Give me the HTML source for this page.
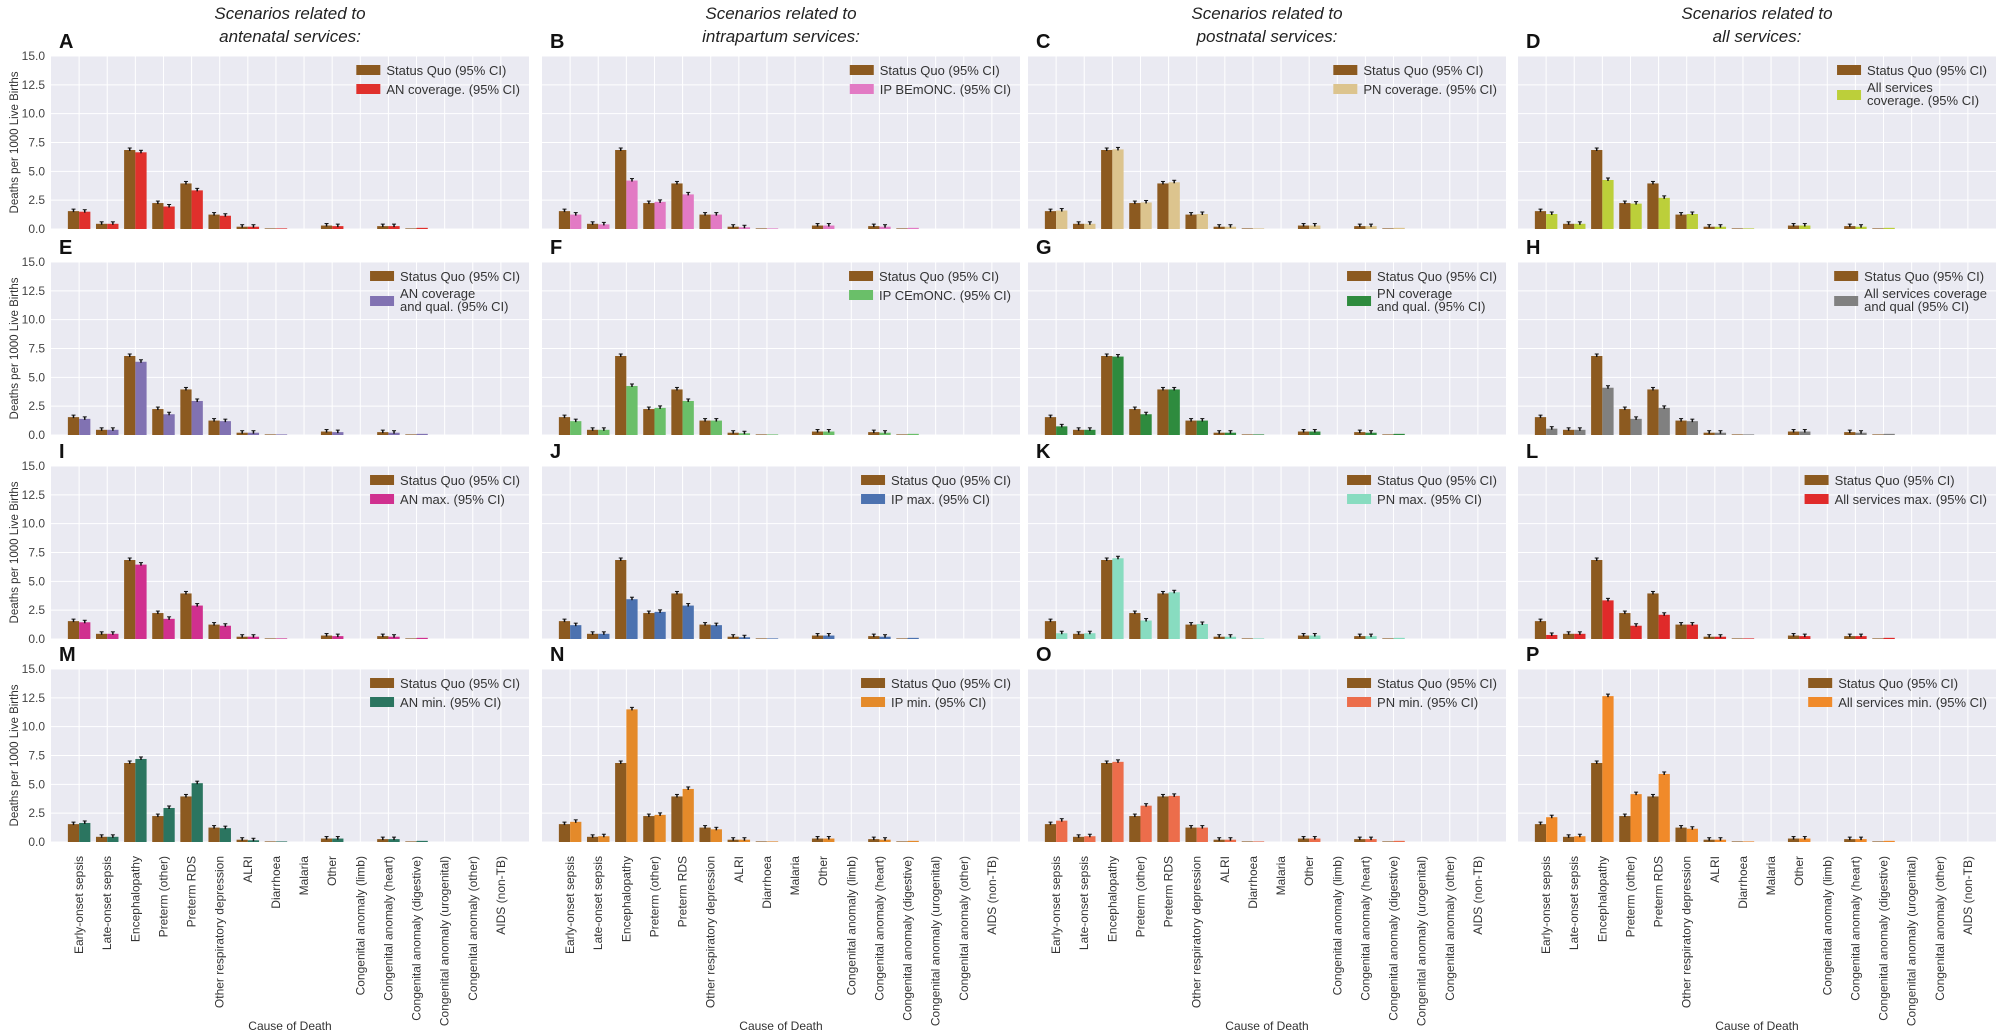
<!DOCTYPE html>
<html><head><meta charset="utf-8"><style>
html,body{margin:0;padding:0;background:#fff;}
svg{display:block;font-family:"Liberation Sans",sans-serif;}
</style></head><body>
<svg id="s" width="2000" height="1036" xmlns="http://www.w3.org/2000/svg"></svg>
<script>
const S=document.getElementById('s');const NS='http://www.w3.org/2000/svg';
function el(t,a,txt){const e=document.createElementNS(NS,t);for(const k in a)e.setAttribute(k,a[k]);if(txt!==undefined)e.textContent=txt;S.appendChild(e);return e;}
const L=[51,542,1028,1518],W=478,T=[56,262,466,669],H=173;
const SQ=[1.55,0.45,6.85,2.25,3.95,1.25,0.2,0.05,0,0.3,0,0.25,0.05,0,0,0];
const P=[
['A','#e0302c',['AN coverage. (95% CI)'],[1.5,0.45,6.65,1.95,3.35,1.15,0.2,0.05,0,0.25,0,0.25,0.1,0,0,0]],
['B','#e27ac4',['IP BEmONC. (95% CI)'],[1.25,0.4,4.2,2.35,3.0,1.25,0.15,0.05,0,0.3,0,0.2,0.1,0,0,0]],
['C','#dcc48e',['PN coverage. (95% CI)'],[1.6,0.45,6.9,2.3,4.05,1.3,0.2,0.05,0,0.3,0,0.25,0.1,0,0,0]],
['D','#bccf3a',['All services','coverage. (95% CI)'],[1.3,0.45,4.25,2.2,2.7,1.3,0.2,0.05,0,0.3,0,0.2,0.1,0,0,0]],
['E','#8172b2',['AN coverage','and qual. (95% CI)'],[1.4,0.45,6.35,1.8,2.95,1.2,0.2,0.05,0,0.25,0,0.2,0.1,0,0,0]],
['F','#6abf69',['IP CEmONC. (95% CI)'],[1.2,0.45,4.25,2.35,2.95,1.25,0.15,0.05,0,0.3,0,0.2,0.1,0,0,0]],
['G','#2e8b3e',['PN coverage','and qual. (95% CI)'],[0.75,0.45,6.8,1.8,3.95,1.25,0.2,0.05,0,0.3,0,0.2,0.1,0,0,0]],
['H','#808080',['All services coverage','and qual (95% CI)'],[0.55,0.45,4.1,1.4,2.35,1.2,0.2,0.05,0,0.3,0,0.2,0.1,0,0,0]],
['I','#d0308f',['AN max. (95% CI)'],[1.45,0.45,6.45,1.75,2.9,1.15,0.2,0.05,0,0.25,0,0.2,0.1,0,0,0]],
['J','#4c72b0',['IP max. (95% CI)'],[1.2,0.45,3.45,2.35,2.9,1.2,0.15,0.05,0,0.3,0,0.2,0.1,0,0,0]],
['K','#88dcc0',['PN max. (95% CI)'],[0.5,0.5,7.0,1.6,4.05,1.3,0.2,0.05,0,0.3,0,0.25,0.1,0,0,0]],
['L','#e02a2a',['All services max. (95% CI)'],[0.35,0.45,3.35,1.15,2.1,1.25,0.2,0.05,0,0.25,0,0.25,0.1,0,0,0]],
['M','#2b7560',['AN min. (95% CI)'],[1.65,0.45,7.2,2.95,5.1,1.2,0.15,0.05,0,0.3,0,0.25,0.1,0,0,0]],
['N','#e48a2a',['IP min. (95% CI)'],[1.75,0.5,11.5,2.35,4.6,1.1,0.2,0.05,0,0.3,0,0.2,0.1,0,0,0]],
['O','#ec6d4b',['PN min. (95% CI)'],[1.85,0.5,6.95,3.15,4.0,1.25,0.2,0.05,0,0.3,0,0.25,0.1,0,0,0]],
['P','#f08a2a',['All services min. (95% CI)'],[2.15,0.5,12.65,4.15,5.9,1.15,0.2,0.05,0,0.3,0,0.25,0.1,0,0,0]]];
const CATS=['Early-onset sepsis','Late-onset sepsis','Encephalopathy','Preterm (other)','Preterm RDS','Other respiratory depression','ALRI','Diarrhoea','Malaria','Other','Congenital anomaly (limb)','Congenital anomaly (heart)','Congenital anomaly (digestive)','Congenital anomaly (urogenital)','Congenital anomaly (other)','AIDS (non-TB)'];
const HDR=[['Scenarios related to','antenatal services:'],['Scenarios related to','intrapartum services:'],['Scenarios related to','postnatal services:'],['Scenarios related to','all services:']];
const SQC='#8c5a20';const dx=W/17,bw=0.4*dx;
for(let c=0;c<4;c++){
  const cx=L[c]+W/2;
  el('text',{x:cx,y:19,'text-anchor':'middle','font-size':17,'font-style':'italic',fill:'#222'},HDR[c][0]);
  el('text',{x:cx,y:42,'text-anchor':'middle','font-size':17,'font-style':'italic',fill:'#222'},HDR[c][1]);
}
P.forEach((p,k)=>{
  const r=Math.floor(k/4),c=k%4,x0=L[c],y0=T[r],yb=y0+H;
  const Y=v=>yb-v/15*H;
  el('text',{x:x0+8,y:y0-8,'font-size':20,'font-weight':'bold',fill:'#111'},p[0]);
  el('rect',{x:x0,y:y0,width:W,height:H,fill:'#eaeaf2'});
  for(let i=0;i<16;i++){const gx=x0+(i+1)*dx;el('line',{x1:gx,x2:gx,y1:y0,y2:yb,stroke:'#fff','stroke-width':1});}
  for(let t=0;t<=6;t++){const gy=Y(t*2.5);el('line',{x1:x0,x2:x0+W,y1:gy,y2:gy,stroke:'#fff','stroke-width':1});
    if(c==0)el('text',{x:x0-6,y:gy+4,'text-anchor':'end','font-size':12,fill:'#444'},(t*2.5).toFixed(1));}
  if(c==0){const my=y0+H/2;el('text',{x:18,y:my,'text-anchor':'middle','font-size':11.5,fill:'#333',transform:`rotate(-90 18 ${my})`},'Deaths per 1000 Live Births');}
  for(let i=0;i<16;i++){
    const gx=x0+(i+1)*dx;
    [[SQ[i],SQC,gx-bw],[p[3][i],p[1],gx]].forEach(([v,col,bx])=>{
      if(v<=0)return;
      el('rect',{x:bx,y:Y(v),width:bw,height:yb-Y(v),fill:col});
      if(v>0.1){el('line',{x1:bx+bw/2,x2:bx+bw/2,y1:Y(v)-2,y2:Y(v)+1,stroke:'#111','stroke-width':1.5});
        el('line',{x1:bx+bw/2-2,x2:bx+bw/2+2,y1:Y(v)-2,y2:Y(v)-2,stroke:'#111','stroke-width':1});}
    });
  }
  const right=x0+W-9;
  let maxw=0;const texts=[];
  texts.push(el('text',{y:y0+19,'font-size':13,fill:'#333'},'Status Quo (95% CI)'));
  const l2=p[2];
  if(l2.length==1){texts.push(el('text',{y:y0+38,'font-size':13,fill:'#333'},l2[0]));}
  else{texts.push(el('text',{y:y0+36,'font-size':13,fill:'#333'},l2[0]));texts.push(el('text',{y:y0+49,'font-size':13,fill:'#333'},l2[1]));}
  texts.forEach(t=>{maxw=Math.max(maxw,t.getComputedTextLength());});
  const tx=right-maxw;texts.forEach(t=>t.setAttribute('x',tx));
  el('rect',{x:tx-30,y:y0+9,width:24,height:10,fill:SQC});
  el('rect',{x:tx-30,y:l2.length==1?y0+28:y0+34,width:24,height:10,fill:p[1]});
  if(r==3){
    for(let i=0;i<16;i++){const gx=x0+(i+1)*dx+4;const ly=yb+14;
      el('text',{x:gx,y:ly,'text-anchor':'end','font-size':12,fill:'#333',transform:`rotate(-90 ${gx} ${ly})`},CATS[i]);}
    el('text',{x:x0+W/2,y:1030,'text-anchor':'middle','font-size':12,fill:'#333'},'Cause of Death');
  }
});
</script>
</body></html>
